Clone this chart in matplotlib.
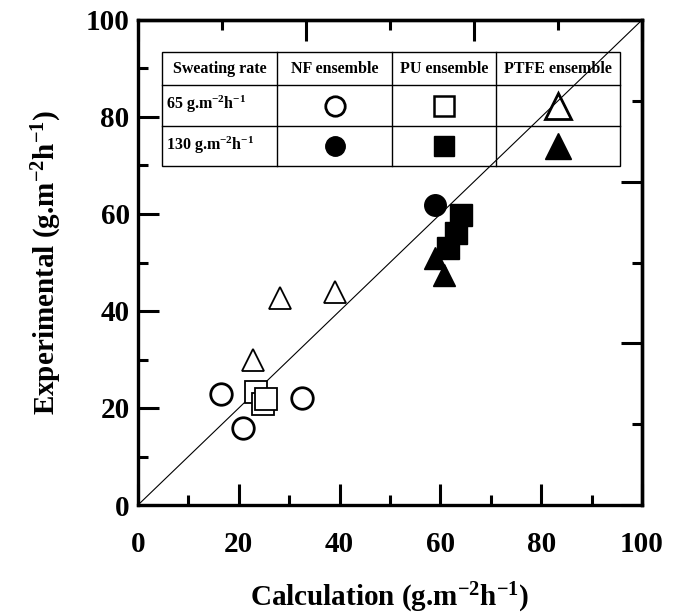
import matplotlib
matplotlib.use("Agg")
import matplotlib.pyplot as plt
from matplotlib.patches import Rectangle

plt.rcParams['font.family'] = ['Liberation Serif', 'DejaVu Serif']
plt.rcParams['font.weight'] = 'bold'
plt.rcParams['mathtext.fontset'] = 'custom'
plt.rcParams['mathtext.rm'] = 'Liberation Serif:bold'
plt.rcParams['mathtext.it'] = 'Liberation Serif:bold'
plt.rcParams['mathtext.bf'] = 'Liberation Serif:bold'

# ---- data (calculation, experimental) ----
nf65_x = [16.5, 20.8, 32.5]
nf65_y = [22.9, 15.9, 22.1]
pu65_x = [23.5, 24.8, 25.4]
pu65_y = [23.3, 20.9, 21.8]
ptfe65_x = [22.8, 28.2, 39.0]
ptfe65_y = [30.0, 42.6, 44.0]

nf130_x = [58.9]
nf130_y = [61.9]
pu130_x = [64.1, 63.0, 61.5]
pu130_y = [59.7, 56.0, 53.0]
ptfe130_x = [59.0, 60.7]
ptfe130_y = [50.9, 47.5]

x_ticks = [0, 20, 40, 60, 80, 100]
y_ticks = [0, 20, 40, 60, 80, 100]

col_headers = ["Sweating rate", "NF ensemble", "PU ensemble", "PTFE ensemble"]
row_labels = [r"65 g.m$^{-2}$h$^{-1}$", r"130 g.m$^{-2}$h$^{-1}$"]

fig = plt.figure(figsize=(6.75, 6.16), dpi=100)
ax = fig.add_axes([138/675, 1-505/616, (642-138)/675, (505-20)/616])
ax.set_xlim(0, 100)
ax.set_ylim(0, 100)

# 1:1 line
ax.plot([0, 100], [0, 100], color='black', lw=0.8, zorder=4)

ms = 15.5
ax.plot(nf65_x, nf65_y, 'o', ms=ms, mfc='white', mec='black', mew=2.0, ls='none', zorder=5)
ax.plot(pu65_x, pu65_y, 's', ms=ms, mfc='white', mec='black', mew=1.3, ls='none', zorder=5)
ax.plot(ptfe65_x, ptfe65_y, '^', ms=ms, mfc='white', mec='black', mew=1.3, ls='none', zorder=5)
ax.plot(nf130_x, nf130_y, 'o', ms=ms, mfc='black', mec='black', ls='none', zorder=5)
ax.plot(pu130_x, pu130_y, 's', ms=ms, mfc='black', mec='black', ls='none', zorder=5)
ax.plot(ptfe130_x, ptfe130_y, '^', ms=ms, mfc='black', mec='black', ls='none', zorder=5)

# ---- legend table ----
tx = [4.8, 27.6, 50.4, 71.0, 95.6]
ty = [93.3, 86.6, 78.1, 69.8]
ax.add_patch(Rectangle((tx[0], ty[3]), tx[4]-tx[0], ty[0]-ty[3], fc='white', ec='black', lw=1.0, zorder=2))
for xv in tx[1:-1]:
    ax.plot([xv, xv], [ty[3], ty[0]], color='black', lw=1.0, zorder=3)
for yv in ty[1:-1]:
    ax.plot([tx[0], tx[4]], [yv, yv], color='black', lw=1.0, zorder=3)
for i, h in enumerate(col_headers):
    ax.text((tx[i]+tx[i+1])/2, (ty[0]+ty[1])/2, h, ha='center', va='center',
            fontsize=11.5, fontweight='bold', zorder=3)
for j, r in enumerate(row_labels):
    ax.text(tx[0]+0.7, (ty[j+1]+ty[j+2])/2 + 0.3, r, ha='left', va='center',
            fontsize=11.5, fontweight='bold', zorder=3)
r1 = (ty[1]+ty[2])/2
r2 = (ty[2]+ty[3])/2
c = [(tx[k]+tx[k+1])/2 for k in range(1, 4)]
ax.plot([c[0]], [r1], 'o', ms=14, mfc='white', mec='black', mew=2.0, zorder=3)
ax.plot([c[1]], [r1], 's', ms=14, mfc='white', mec='black', mew=1.8, zorder=3)
ax.plot([c[2]], [r1], '^', ms=19, mfc='white', mec='black', mew=2.0, zorder=3)
ax.plot([c[0]], [r2], 'o', ms=14, mfc='black', mec='black', zorder=3)
ax.plot([c[1]], [r2], 's', ms=14, mfc='black', mec='black', zorder=3)
ax.plot([c[2]], [r2], '^', ms=19, mfc='black', mec='black', zorder=3)

# ---- axes styling ----
for s in ax.spines.values():
    s.set_linewidth(2.4)
ax.set_xticks(x_ticks)
ax.set_yticks(y_ticks)
ax.set_xticks([10, 30, 50, 70, 90], minor=True)
ax.set_yticks([10, 30, 50, 70, 90], minor=True)
ax.tick_params(which='major', direction='in', length=15, width=2.2, labelsize=21)
ax.tick_params(which='minor', direction='in', length=7, width=2.2)
ax.tick_params(axis='x', which='major', pad=19)
ax.tick_params(axis='y', which='major', pad=6)
for lab in ax.get_xticklabels() + ax.get_yticklabels():
    lab.set_fontweight('bold')

top = ax.secondary_xaxis('top')
top.set_xticks([0, 100/3, 200/3, 100], labels=['', '', '', ''])
top.set_xticks([100/6, 50, 500/6], minor=True)
top.tick_params(which='major', direction='in', length=15, width=2.2)
top.tick_params(which='minor', direction='in', length=7, width=2.2)
top.spines['top'].set_linewidth(2.4)

right = ax.secondary_yaxis('right')
right.set_yticks([0, 100/3, 200/3, 100], labels=['', '', '', ''])
right.set_yticks([100/6, 50, 500/6], minor=True)
right.tick_params(which='major', direction='in', length=15, width=2.2)
right.tick_params(which='minor', direction='in', length=7, width=2.2)
right.spines['right'].set_linewidth(2.4)

ax.set_xlabel(r"Calculation (g.m$^{-2}$h$^{-1}$)", fontsize=21, fontweight='bold', labelpad=16)
ax.set_ylabel(r"Experimental (g.m$^{-2}$h$^{-1}$)", fontsize=21, fontweight='bold', labelpad=16)

fig.savefig("out.png", dpi=100)
